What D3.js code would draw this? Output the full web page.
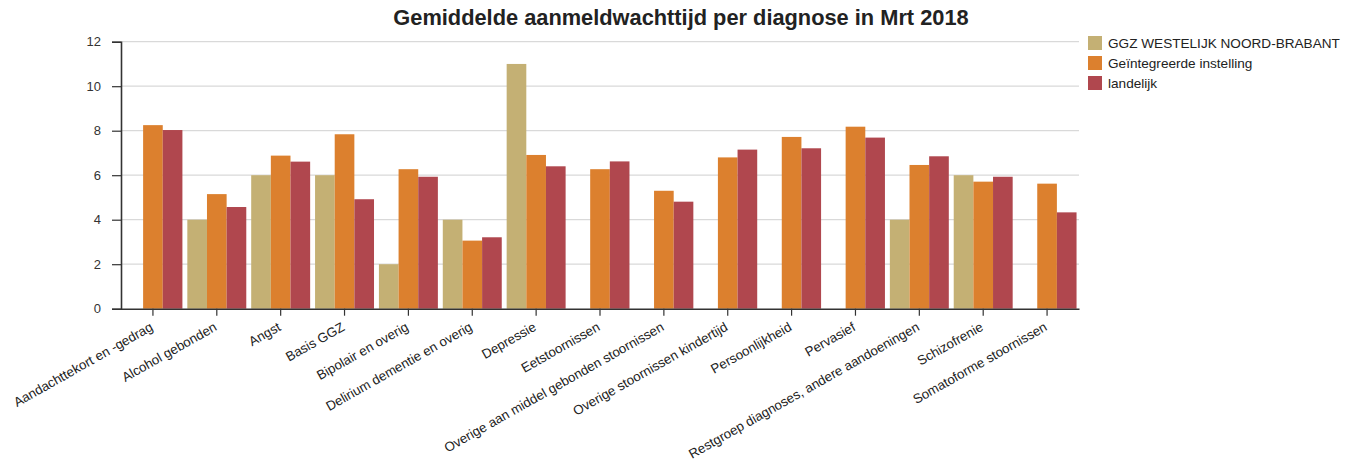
<!DOCTYPE html>
<html><head><meta charset="utf-8">
<script src="https://cdn.jsdelivr.net/npm/d3@7"></script>
<style>body{margin:0;background:#fff;}svg{display:block;font-family:"Liberation Sans",Arial,sans-serif;}</style>
</head><body><svg id="c" width="1349" height="465"></svg>
<script>
const categories = ["Aandachttekort en -gedrag","Alcohol gebonden","Angst","Basis GGZ","Bipolair en overig","Delirium dementie en overig","Depressie","Eetstoornissen","Overige aan middel gebonden stoornissen","Overige stoornissen kindertijd","Persoonlijkheid","Pervasief","Restgroep diagnoses, andere aandoeningen","Schizofrenie","Somatoforme stoornissen"];
const seriesNames = ["GGZ WESTELIJK NOORD-BRABANT","Geïntegreerde instelling","landelijk"];
const ggz = [null,4,6,6,2,4,11,null,null,null,null,null,4,6,null];
const geintegreerd = [8.25,5.15,6.88,7.84,6.27,3.06,6.91,6.27,5.3,6.8,7.72,8.18,6.46,5.71,5.62];
const landelijk = [8.03,4.57,6.61,4.92,5.93,3.21,6.4,6.62,4.81,7.15,7.21,7.69,6.85,5.93,4.33];
const yTicks = [0,2,4,6,8,10,12];
const colors = ["#c4b074","#dc802e","#b0474e"];
const title = "Gemiddelde aanmeldwachttijd per diagnose in Mrt 2018";

const svg = d3.select("#c");
const L=121, R=1079, T=41.7, B=308.7;
const x = d3.scaleBand().domain(categories).range([L,R]).paddingInner(0).paddingOuter(0);
const x1 = d3.scaleBand().domain(seriesNames).range([0,x.bandwidth()]).paddingInner(0).paddingOuter(0.125);
const y = d3.scaleLinear().domain([0,12]).range([B,T]);
const data = [ggz,geintegreerd,landelijk];

// grid
svg.append("g").selectAll("line").data(yTicks.filter(d=>d>0)).join("line")
  .attr("x1",L).attr("x2",R).attr("y1",d=>y(d)).attr("y2",d=>y(d))
  .attr("stroke","#d9d9d9").attr("stroke-width",1.2);

// bars
seriesNames.forEach((s,si)=>{
  svg.append("g").selectAll("rect").data(categories.map((c,i)=>({c,v:data[si][i]})).filter(d=>d.v!=null)).join("rect")
    .attr("x",d=>x(d.c)+x1(s)).attr("width",x1.bandwidth())
    .attr("y",d=>y(d.v)).attr("height",d=>B-y(d.v))
    .attr("fill",colors[si]);
});

// y axis
const ya = svg.append("g").attr("transform",`translate(${L},0)`)
  .call(d3.axisLeft(y).tickValues(yTicks).tickSize(9).tickPadding(11).tickFormat(d3.format("d")));
ya.select(".domain").attr("stroke","#333").attr("stroke-width",1.6);
ya.selectAll(".tick line").attr("stroke","#333").attr("stroke-width",1.2);
ya.selectAll("text").attr("font-size",13).attr("fill","#333").attr("font-family","Liberation Sans, Arial");

// x axis
const xa = svg.append("g").attr("transform",`translate(0,${B})`)
  .call(d3.axisBottom(x).tickSize(7).tickSizeOuter(0).tickFormat(""));
xa.select(".domain").attr("stroke","#333").attr("stroke-width",1.6);
xa.selectAll(".tick line").attr("stroke","#333").attr("stroke-width",1.2);

// x labels
svg.append("g").selectAll("text").data(categories).join("text")
  .attr("transform",d=>`translate(${x(d)+x.bandwidth()/2+1},${B+21}) rotate(-29.5)`)
  .attr("text-anchor","end").attr("font-size",13.3).attr("fill","#222")
  .text(d=>d);

// title
svg.append("text").attr("x",681).attr("y",25).attr("text-anchor","middle")
  .attr("font-size",21.8).attr("font-weight","bold").attr("fill","#222").text(title);

// legend
const lg = svg.append("g");
seriesNames.forEach((s,i)=>{
  lg.append("rect").attr("x",1088).attr("y",36+i*20).attr("width",14).attr("height",14).attr("fill",colors[i]);
  lg.append("text").attr("x",1108).attr("y",48+i*20).attr("font-size",13.6).attr("fill","#222").text(s);
});
</script></body></html>
